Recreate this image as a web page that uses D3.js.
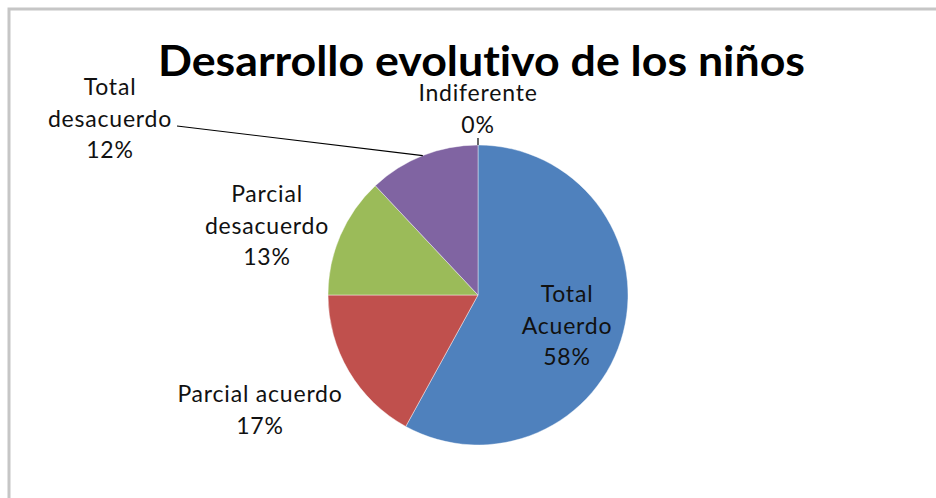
<!DOCTYPE html>
<html>
<head>
<meta charset="utf-8">
<script src="https://cdn.jsdelivr.net/npm/d3@7"></script>
<style>
  body { margin: 0; background: #fff; }
  svg { display: block; font-family: Lato, "Open Sans", sans-serif; font-variant-ligatures: none; }
</style>
</head>
<body>
<div id="main"></div>
<script>
const width = 936;
const height = 498;

// data
const categories = ["Total Acuerdo", "Parcial acuerdo", "Parcial desacuerdo", "Total desacuerdo", "Indiferente"];
const values = [58, 17, 13, 12, 0];
const colors = ["#4F81BD", "#C0504D", "#9BBB59", "#8064A2", "#F79646"];
const labelLines = [
  ["Total", "Acuerdo", "58%"],
  ["Parcial acuerdo", "17%"],
  ["Parcial", "desacuerdo", "13%"],
  ["Total", "desacuerdo", "12%"],
  ["Indiferente", "0%"]
];

// layout of the labels (first baseline), separate from the data
const labelAt = [[567, 302], [260, 402], [267, 202], [110, 95], [478, 101]];
const leaderFrom = [null, null, null, [177, 126], [478, 138]];

const cx = 478, cy = 295, radius = 150;
const lineH = 31.5;

const svg = d3.select("#main").append("svg")
  .attr("width", width)
  .attr("height", height);

// chart border
svg.append("rect")
  .attr("x", 9).attr("y", 9)
  .attr("width", width + 20).attr("height", height + 20)
  .attr("fill", "none")
  .attr("stroke", "#c6c6c6")
  .attr("stroke-width", 3);

svg.append("text")
  .attr("x", 158).attr("y", 76)
  .attr("textLength", 647)
  .attr("lengthAdjust", "spacingAndGlyphs")
  .style("font-size", "42px")
  .style("font-weight", "bold")
  .style("fill", "#000")
  .text("Desarrollo evolutivo de los niños");

const color = d3.scaleOrdinal().domain(categories).range(colors);

const pie = d3.pie().sort(null).value(d => d.value);
const arcs = pie(categories.map((c, i) => ({ name: c, value: values[i], idx: i })));

const arc = d3.arc().innerRadius(0).outerRadius(radius);

const g = svg.append("g").attr("transform", `translate(${cx},${cy})`);

g.selectAll("path")
  .data(arcs.filter(d => d.data.value > 0))
  .join("path")
  .attr("d", arc)
  .attr("fill", d => color(d.data.name))
  .attr("stroke", "#fff")
  .attr("stroke-width", 0.6)
  .attr("stroke-opacity", 0.7);

// leader lines
arcs.forEach((d, i) => {
  if (!leaderFrom[i]) return;
  const a = (d.startAngle + d.endAngle) / 2;
  const ex = cx + radius * Math.sin(a);
  const ey = cy - radius * Math.cos(a);
  svg.append("line")
    .attr("x1", leaderFrom[i][0]).attr("y1", leaderFrom[i][1])
    .attr("x2", ex).attr("y2", ey)
    .attr("stroke", "#000")
    .attr("stroke-width", 1.2);
});

// labels
arcs.forEach((d, i) => {
  const t = svg.append("text")
    .attr("text-anchor", "middle")
    .style("font-size", "23px")
    .style("letter-spacing", "0.8px")
    .style("fill", "#111");
  labelLines[i].forEach((ln, k) => {
    t.append("tspan")
      .attr("x", labelAt[i][0])
      .attr("y", labelAt[i][1] + k * lineH)
      .text(ln);
  });
});
</script>
</body>
</html>
